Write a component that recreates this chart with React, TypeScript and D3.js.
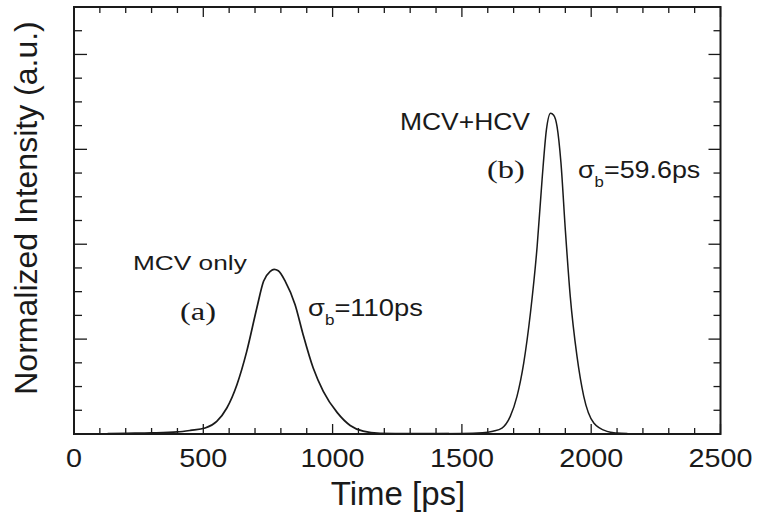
import React from "react";
import * as d3 from "d3";

// ---- data ----
const xTickLabels = [0, 500, 1000, 1500, 2000, 2500];

const curveA_t = [130, 200, 300, 400, 450, 507, 552, 591, 630, 668, 707, 733, 759, 774, 790, 817, 855, 886, 925, 964, 1018, 1068, 1118, 1184, 1300, 1450];
const curveA_v = [0.005, 0.008, 0.012, 0.022, 0.038, 0.063, 0.133, 0.274, 0.52, 0.871, 1.328, 1.609, 1.714, 1.735, 1.72, 1.609, 1.363, 1.047, 0.695, 0.45, 0.225, 0.09, 0.03, 0.008, 0.003, 0.003];

const curveB_t = [1400, 1500, 1580, 1620, 1655, 1687, 1713, 1739, 1765, 1791, 1810, 1827, 1843, 1855, 1868, 1883, 1900, 1919, 1945, 1971, 2010, 2061, 2100, 2140];
const curveB_v = [0.003, 0.004, 0.012, 0.03, 0.063, 0.186, 0.397, 0.748, 1.275, 1.978, 2.68, 3.21, 3.38, 3.36, 3.24, 2.86, 2.15, 1.45, 0.82, 0.40, 0.116, 0.028, 0.01, 0.004];

const SANS = "'Liberation Sans', Arial, Helvetica, sans-serif";
const SERIF = "'Liberation Serif', 'Times New Roman', serif";
const INK = "#1a1a1a";

export default function App() {
  const W = 757, H = 519;
  const x = d3.scaleLinear().domain([0, 2500]).range([74, 720.5]);
  const y = d3.scaleLinear().domain([0, 4.5]).range([434, 7]);

  const line = d3.line<[number, number]>()
    .x(d => x(d[0]))
    .y(d => y(d[1]))
    .curve(d3.curveMonotoneX);

  const dataA: [number, number][] = curveA_t.map((t, i) => [t, curveA_v[i]]);
  const dataB: [number, number][] = curveB_t.map((t, i) => [t, curveB_v[i]]);

  const xMinor = d3.range(0, 2501, 100);
  const yMinor = d3.range(0, 4.51, 0.25);

  const [x0, x1] = x.range();
  const [y0, y1] = y.range();

  return (
    <div style={{ position: "absolute", left: 0, top: 0 }}>
      <svg width={W} height={H} style={{ display: "block", background: "#fff" }}>
        {/* curves */}
        <path d={line(dataA) || ""} fill="none" stroke={INK} strokeWidth={1.7} />
        <path d={line(dataB) || ""} fill="none" stroke={INK} strokeWidth={1.5} />

        {/* x ticks (bottom & top, inward) */}
        {xMinor.map(v => {
          const major = Math.abs(v % 500) < 1e-6;
          const len = major ? 10 : 6;
          return (
            <g key={"xt" + v}>
              <line x1={x(v)} x2={x(v)} y1={y0} y2={y0 - len} stroke={INK} strokeWidth={1.3} />
              <line x1={x(v)} x2={x(v)} y1={y1} y2={y1 + len} stroke={INK} strokeWidth={1.3} />
            </g>
          );
        })}
        {/* y ticks (left & right, inward) */}
        {yMinor.map(v => {
          const major = Math.abs(v - Math.round(v)) < 1e-6;
          const lenL = major ? 13 : 8;
          const lenR = major ? 12 : 7;
          return (
            <g key={"yt" + v}>
              <line x1={x0} x2={x0 + lenL} y1={y(v)} y2={y(v)} stroke={INK} strokeWidth={1.3} />
              <line x1={x1} x2={x1 - lenR} y1={y(v)} y2={y(v)} stroke={INK} strokeWidth={1.3} />
            </g>
          );
        })}

        {/* frame */}
        <rect x={x0} y={y1} width={x1 - x0} height={y0 - y1} fill="none" stroke={INK} strokeWidth={2} />

        {/* x tick labels */}
        {xTickLabels.map(v => (
          <text key={"xl" + v} transform={`translate(${x(v)},467) scale(1.15,1)`} textAnchor="middle"
            fontFamily={SANS} fontSize={25} fill={INK}>{v}</text>
        ))}

        {/* axis titles */}
        <text x={398} y={505} textAnchor="middle" fontFamily={SANS} fontSize={33} fill={INK}>Time [ps]</text>
        <text transform="translate(37,208) rotate(-90)" textAnchor="middle" fontFamily={SANS} fontSize={32} fill={INK}>
          Normalized Intensity (a.u.)
        </text>

        {/* annotations */}
        <text transform="translate(133,270) scale(1.25,1)" fontFamily={SANS} fontSize={21} fill={INK}>MCV only</text>
        <text transform="translate(180,320) scale(1.3,1)" fontFamily={SERIF} fontSize={25} fill={INK}>(a)</text>
        <text transform="translate(308,316) scale(1.14,1)" fontFamily={SANS} fontSize={24} fill={INK}>
          σ<tspan dy={9} fontSize={15}>b</tspan><tspan dy={-9}>=110ps</tspan>
        </text>

        <text transform="translate(400,130) scale(1.15,1)" fontFamily={SANS} fontSize={23} fill={INK}>MCV+HCV</text>
        <text transform="translate(487,178) scale(1.3,1)" fontFamily={SERIF} fontSize={25} fill={INK}>(b)</text>
        <text transform="translate(578,178) scale(1.12,1)" fontFamily={SANS} fontSize={24} fill={INK}>
          σ<tspan dy={9} fontSize={15}>b</tspan><tspan dy={-9}>=59.6ps</tspan>
        </text>
      </svg>
    </div>
  );
}
